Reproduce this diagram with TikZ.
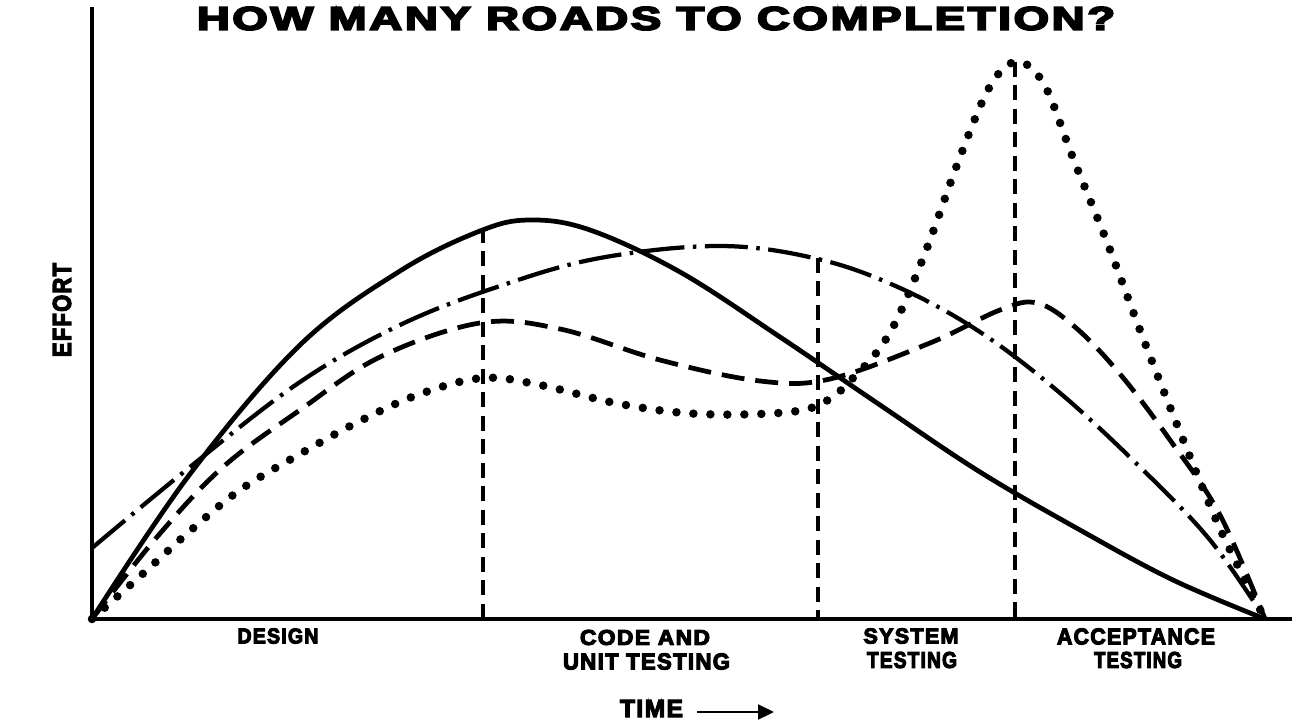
\documentclass[tikz,border=0pt]{standalone}
\usepackage{fontspec}
\usepackage{graphicx}
\newfontfamily\heavyfont{Liberation Sans}[FakeBold=5, LetterSpace=6]
\usetikzlibrary{arrows.meta}
\newdimen\pxu
\pxu=0.02cm
\newcommand\fitted[3]{\resizebox{#1\pxu}{#2\pxu}{\heavyfont\bfseries #3}}
\begin{document}
\begin{tikzpicture}[x=0.02cm,y=-0.02cm,
  axis/.style={line width=0.065cm, line join=miter},
  phase/.style={line width=0.07cm, dash pattern=on 0.3cm off 0.17cm},
  solidcurve/.style={line width=0.095cm, line join=round},
  dashcurve/.style={line width=0.095cm, dash pattern=on 0.46cm off 0.22cm},
  dashdotcurve/.style={line width=0.085cm, dash pattern=on 0.86cm off 0.17cm on 0.07cm off 0.17cm},
  dotcurve/.style={line width=0.17cm, line cap=round, dash pattern=on 0pt off 0.34cm},
  lbl/.style={inner sep=0pt, anchor=center},
  curveplot/.style={smooth, tension=0.6}
]
\useasboundingbox (0,0) rectangle (1313,723);

% axes
\coordinate (ytop) at (92,7);
\coordinate (O) at (92,619);
\coordinate (xend) at (1292,619);
\coordinate (E) at (1265,619);
\draw[axis] (ytop) -- (O) -- (xend);

% phase boundaries
\coordinate (p1t) at (483,228);  \coordinate (p1b) at (483,619);
\coordinate (p2t) at (818,258);  \coordinate (p2b) at (818,619);
\coordinate (p3t) at (1015,62);  \coordinate (p3b) at (1015,619);
\draw[phase] (p1t) -- (p1b);
\draw[phase] (p2t) -- (p2b);
\draw[phase] (p3t) -- (p3b);

% solid curve
\draw[solidcurve] plot[curveplot] coordinates {
 (92,619) (190,474) (300,345) (400,271) (480,231) (530,220) (590,230)
 (680,272) (780,337) (880,405) (980,472) (1080,530) (1173,580) (1265,619)};

% dash-dot curve
\draw[dashdotcurve] plot[curveplot] coordinates {
 (92,548) (190,467) (300,382) (400,325) (500,286) (600,258) (720,246)
 (818,259) (900,288) (980,332) (1060,393) (1140,467) (1210,540) (1265,619)};

% dashed curve
\draw[dashcurve] plot[curveplot] coordinates {
 (92,619) (157,537) (223,467) (300,410) (380,357) (480,323)
 (560,329) (660,360) (760,381) (830,379) (930,343) (1000,310) (1037,303)
 (1075,327) (1120,374) (1170,440) (1220,515) (1265,619)};

% dotted curve
\draw[dotcurve] plot[curveplot] coordinates {
 (92,619) (147,570) (190,531) (240,490) (300,454) (360,421) (420,394)
 (483,378) (540,385) (620,404) (700,414) (790,412) (828,400) (855,376)
 (880,348) (900,313) (927,248) (957,165) (983,100) (1000,72) (1015,62)
 (1030,67) (1048,92) (1073,158) (1107,242) (1143,338) (1182,437)
 (1222,533) (1265,619)};

% texts
\node[lbl] (title) at (656,18.5) {\fitted{918}{23}{HOW MANY ROADS TO COMPLETION?}};
\node[lbl, rotate=90] (effort) at (62,310) {\fitted{94}{18}{EFFORT}};
\node[lbl] (design) at (278,636) {\fitted{81}{15}{DESIGN}};
\node[lbl] (code1) at (645,637.5) {\fitted{130}{15}{CODE AND}};
\node[lbl] (code2) at (646.5,661.5) {\fitted{167}{16}{UNIT TESTING}};
\node[lbl] (sys1) at (911,636) {\fitted{95}{15}{SYSTEM}};
\node[lbl] (sys2) at (912,660) {\fitted{90}{16}{TESTING}};
\node[lbl] (acc1) at (1136,636.5) {\fitted{158}{16}{ACCEPTANCE}};
\node[lbl] (acc2) at (1138,660) {\fitted{88}{16}{TESTING}};
\node[lbl] (time) at (651.5,708.5) {\fitted{63}{17}{TIME}};
\coordinate (tstart) at (697,712);
\coordinate (tarrow) at (774,712);
\draw[line width=0.045cm, -{Triangle[length=0.32cm,width=0.3cm]}] (tstart) -- (tarrow);
\end{tikzpicture}
\end{document}
